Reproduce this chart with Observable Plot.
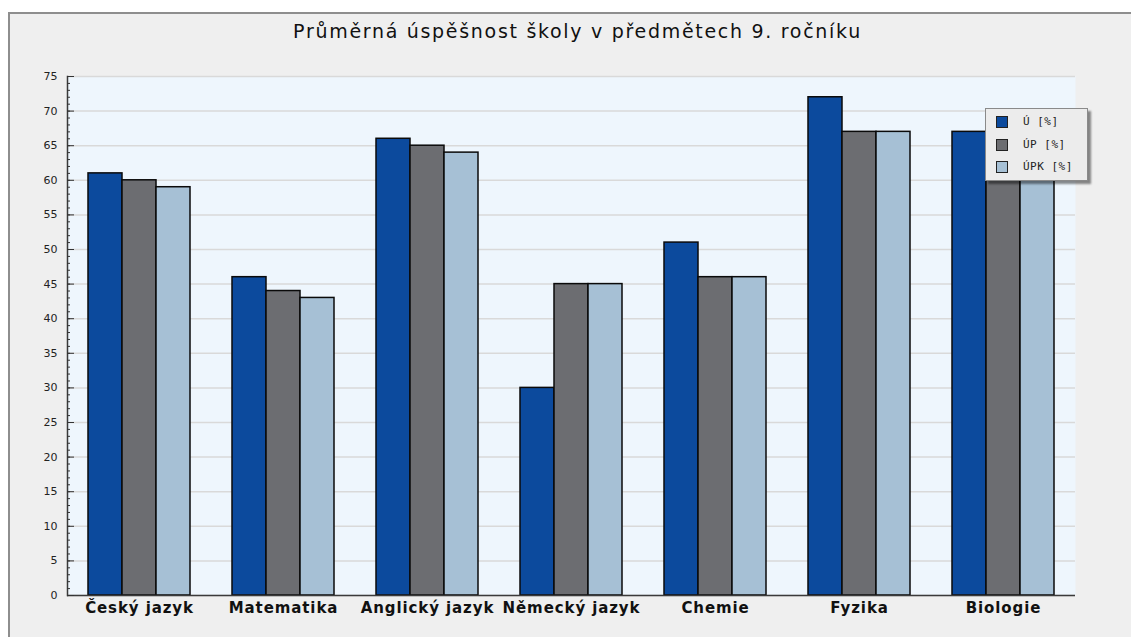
<!DOCTYPE html>
<html><head><meta charset="utf-8">
<script src="https://cdn.jsdelivr.net/npm/d3@7"></script>
<script src="https://cdn.jsdelivr.net/npm/@observablehq/plot@0.6"></script>
<style>
html,body{margin:0;padding:0;background:#fff}
body{width:1131px;height:637px;overflow:hidden;position:relative;font-family:"DejaVu Sans",sans-serif}
#frame{position:absolute;left:8px;top:12px;width:1130px;height:640px;background:#efefef;border-left:2px solid #8e8e8e;border-top:2px solid #8e8e8e}
#title{position:absolute;left:0;width:1155px;top:20px;text-align:center;font-family:"DejaVu Sans",sans-serif;font-size:19px;color:#111;letter-spacing:1.7px}
#chart{position:absolute;left:0;top:0}
#chart g[aria-label="fx-axis tick label"] text{letter-spacing:0.9px}
#legend{position:absolute;left:985px;top:108px;width:101px;height:71px;background:#ececec;border:1px solid #8a8a8a;box-shadow:3px 3px 2px rgba(0,0,0,0.45)}
.item{position:absolute;left:10px;height:14px;font-family:"DejaVu Sans Mono",monospace;font-size:11px;color:#222;line-height:14px}
.sw{position:absolute;left:0;top:0;width:10px;height:10px;border:1.5px solid #222}
.lab{position:absolute;left:27px;top:-1px;white-space:nowrap;letter-spacing:0.5px}
</style>
</head><body>
<div id="frame"></div>
<div id="chart"></div>
<div id="title">Průměrná úspěšnost školy v předmětech 9. ročníku</div>
<div id="legend"></div>
<script>
const categories = ["Český jazyk","Matematika","Anglický jazyk","Německý jazyk","Chemie","Fyzika","Biologie"];
const seriesNames = ["Ú [%]","ÚP [%]","ÚPK [%]"];
const valuesU   = [61, 46, 66, 30, 51, 72, 67];
const valuesUP  = [60, 44, 65, 45, 46, 67, 63];
const valuesUPK = [59, 43, 64, 45, 46, 67, 62];
const seriesColors = ["#0c4a9d","#6c6d71","#a6c0d5"];
const yTicks = d3.range(0, 76, 5);
const yMinor = d3.range(0, 76, 1);

const seriesValues = [valuesU, valuesUP, valuesUPK];
const data = [];
categories.forEach((c, i) => seriesNames.forEach((s, j) => data.push({cat: c, series: s, value: seriesValues[j][i]})));

const chart = Plot.plot({
  width: 1131, height: 637,
  marginLeft: 67, marginRight: 56, marginTop: 76, marginBottom: 42,
  style: {background: "transparent", overflow: "visible", fontFamily: "'DejaVu Sans', sans-serif"},
  fx: {domain: categories, paddingInner: 0, paddingOuter: 0, label: null},
  x: {domain: seriesNames, paddingInner: 0, paddingOuter: 0.6, axis: null},
  y: {domain: [0, 75], axis: null},
  color: {domain: seriesNames, range: seriesColors},
  marks: [
    Plot.frame({fill: "#eef6fd", stroke: null, facet: "super"}),
    Plot.gridY(yTicks, {stroke: "#d9d9d9", strokeOpacity: 1, strokeWidth: 1.5}),
    Plot.barY(data, {fx: "cat", x: "series", y: "value", fill: "series", stroke: "#0a0a0a", strokeWidth: 1.5}),
    Plot.ruleY([0], {stroke: "#3a3a3a", strokeWidth: 1.5}),
    Plot.frame({anchor: "left", facet: "super", stroke: "#3a3a3a", strokeWidth: 1.5}),
    Plot.axisY(yTicks, {tickSize: 0, tickPadding: 10, fontSize: 11, fill: "#222", label: null}),
    Plot.axisY(yTicks, {tickSize: 7, dx: 7, tickFormat: () => "", stroke: "#333", label: null}),
    Plot.axisY(yMinor, {tickSize: 3, dx: 3, tickFormat: () => "", stroke: "#333", label: null}),
    Plot.axisFx({anchor: "bottom", tickSize: 0, tickPadding: 7, fontSize: 15, fontWeight: "bold", fill: "#111", label: null})
  ]
});
document.getElementById("chart").appendChild(chart);

const legend = document.getElementById("legend");
seriesNames.forEach((s, j) => {
  const it = document.createElement("div");
  it.className = "item";
  it.style.top = (7 + j * 22.5) + "px";
  it.innerHTML = `<div class="sw" style="background:${seriesColors[j]}"></div><div class="lab">${s}</div>`;
  legend.appendChild(it);
});
</script>
</body></html>
